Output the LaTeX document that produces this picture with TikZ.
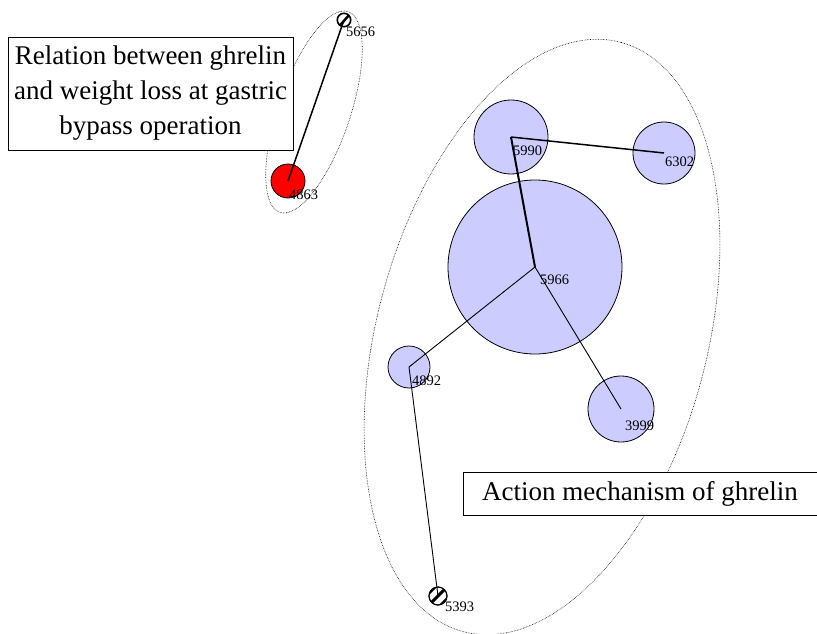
\documentclass[tikz,border=0pt]{standalone}
\usepackage{fontspec}
\setmainfont{Liberation Serif}
\usetikzlibrary{calc}
\begin{document}
\begin{tikzpicture}[x=1pt,y=-1pt,
  topic/.style={draw=black,line width=0.8pt,fill=topicblue,circle,inner sep=0pt},
  hot/.style={draw=black,line width=0.8pt,fill=red,circle,inner sep=0pt},
  tiny/.style={circle,inner sep=0pt,draw=black,line width=1pt,fill=white},
  num/.style={anchor=west,inner sep=0pt,font=\fontsize{14.5}{15}\selectfont},
  link/.style={line width=0.9pt},
  caption/.style={draw=black,line width=0.8pt,fill=white,align=center,inner sep=0pt,
    font=\fontsize{27}{35}\selectfont},
  hull/.style={densely dotted,line width=0.6pt}]
\definecolor{topicblue}{RGB}{204,204,255}
\useasboundingbox (0,0) rectangle (817,634);

% cluster outlines
\draw[hull,rotate around={71.2:(314,112)}] (314,112) ellipse [x radius=106pt,y radius=36pt];
\draw[hull,rotate around={75:(542,337)}] (542,337) ellipse [x radius=305pt,y radius=165pt];

% topic circles
\node[topic,minimum size=174pt] (n5966) at (535,267) {};
\node[topic,minimum size=74pt] (n5990) at (511,137) {};
\node[topic,minimum size=62pt] (n6302) at (664,153) {};
\node[topic,minimum size=42pt] (n4892) at (409,367) {};
\node[topic,minimum size=66pt] (n3999) at (621,409) {};
\node[hot,minimum size=34pt] (n4863) at (288,181) {};
\node[tiny,minimum size=14pt] (n5656) at (344,20) {};
\node[tiny,minimum size=18pt] (n5393) at (438,596) {};

% striped fill of the two small markers
\begin{scope}
  \clip (438,596) circle [radius=8.5pt];
  \foreach \d in {-6,0,6}
    \draw[line width=3pt] ($(438,596)+(\d-12,\d+12)$) -- ++(24,-24);
\end{scope}
\draw[line width=1pt] (438,596) circle [radius=9pt];
\begin{scope}
  \clip (344,20) circle [radius=6.5pt];
  \draw[line width=2.5pt] (336,30) -- (350,14);
\end{scope}
\draw[line width=1.2pt] (344,20) circle [radius=6.5pt];

% connections
\draw[link,line width=2pt] (n5990.center) -- (n5966.center);
\draw[link,line width=1.5pt] (n5990.center) -- (n6302.center);
\draw[link] (n5966.center) -- (n4892.center);
\draw[link] (n5966.center) -- (n3999.center);
\draw[link] (n4892.center) -- (n5393.center);
\draw[link,line width=1.5pt] (n4863.center) -- (n5656.center);

% topic numbers
\node[num] (t5656) at (346,32) {5656};
\node[num] (t4863) at (289,195) {4863};
\node[num] (t5990) at (513,151) {5990};
\node[num] (t5966) at (540,280) {5966};
\node[num] (t6302) at (665,162) {6302};
\node[num] (t4892) at (412,381) {4892};
\node[num] (t3999) at (625,426) {3999};
\node[num] (t5393) at (445,607) {5393};

% cluster captions
\node[caption,minimum width=285pt,minimum height=113pt] (c1) at (150.5,93.5)
  {Relation between ghrelin\\and weight loss at gastric\\bypass operation};
\node[caption,minimum width=354pt,minimum height=43pt] (c2) at (640,493.5)
  {Action mechanism of ghrelin};
\end{tikzpicture}
\end{document}
